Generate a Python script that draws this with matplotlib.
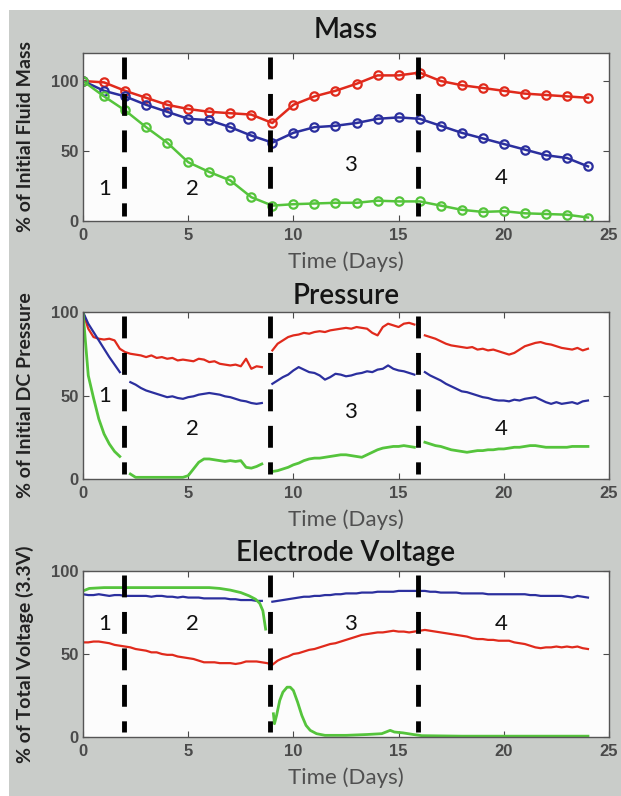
import numpy as np
import matplotlib.pyplot as plt
from matplotlib.patches import Rectangle

# colours
RED = '#e02a1c'
BLUE = '#2b2f9e'
GREEN = '#55c43c'
BG = '#c9ccc9'

# phase boundaries and labels
phase_x = [1.95, 8.9, 15.9]
phase_labels = ['1', '2', '3', '4']

# ---- Mass (daily samples) ----
mass_days = np.arange(0, 25)
mass_red = [100, 99, 93, 88, 83, 80, 78, 77, 76, 70, 83, 89, 93, 98, 104, 104,
            106, 100, 97, 95, 93, 91, 90, 89, 88]
mass_blue = [100, 93, 89, 83, 78, 73, 72, 67, 61, 56, 63, 67, 68, 70, 73, 74,
             73, 68, 63, 59, 55, 51, 47, 45, 39]
mass_green = [100, 89, 79, 67, 56, 42, 35, 29, 17, 11, 12, 12.5, 13, 13, 14.5, 14,
              14, 11, 8, 6.5, 7, 5.5, 5, 4.5, 2.5]

# ---- Pressure / Voltage (quarter-day samples) ----
t_q = np.arange(0, 24.01, 0.25)
nan = np.nan
pres_red = [100, 90, 85, 84, 83.5, 84, 83, 78, 76, 75, 74.5, 74, 73, 74, 72.5, 73,
            72, 72.5, 71, 71.5, 71, 70.5, 72, 71.5, 70, 70.5, 69, 68.5, 68, 68.5, 67.5, 72,
            66, 67.5, 67, nan, 77, 81, 83, 85, 86, 86.5, 87.5, 87, 88, 88.5, 88, 89,
            89.5, 90, 90.5, 90, 91, 90.5, 90, 87.5, 86, 91, 93, 92, 91, 93, 93.5, 92.5,
            nan, 86, 85, 84, 82.5, 81, 80, 79.5, 79, 78.5, 79, 77.5, 78, 77, 77.5, 76.5,
            75.5, 74.5, 75.5, 77.5, 79.5, 80.5, 81.5, 82, 81, 80.5, 79.5, 78.5, 78, 77.5, 78.5, 77,
            78]
pres_blue = [100, 93, 88, 83, 78, 73, 68.5, 64, nan, 58, 56.5, 54.5, 53, 52, 51, 50,
             49, 49.5, 48.5, 48, 49, 49.5, 50.5, 51, 51.5, 51, 50.5, 49.5, 49, 48, 47, 46.5,
             45.5, 45, 45.5, nan, 57, 59, 61, 62.5, 65, 67, 65.5, 64, 63.5, 62, 59.5, 61,
             63, 62.5, 61.5, 62, 63, 63.5, 64.5, 64, 65.5, 66, 68, 66, 65, 64.5, 63.5, 62.5,
             nan, 64, 62, 60.5, 59, 57, 55.5, 54, 52.5, 52, 51, 50, 49, 48.5, 47.5, 47,
             47, 46.5, 47.5, 47, 48, 48.5, 49, 47.5, 46, 45, 46, 45, 45.5, 46, 45, 46.5,
             47]
pres_green = [100, 62, 48.5, 36, 27, 21, 16.5, 13.5, nan, 3, 1, 1, 1, 1, 1, 1,
              1, 1, 1, 1, 2, 6, 10, 12, 12, 11.5, 11, 10.5, 11, 10.5, 11, 7,
              6.5, 7.5, 9, nan, 4.5, 5, 6, 7, 8.5, 9.5, 11, 12, 12.5, 12.5, 13, 13.5,
              14, 14.5, 14.5, 14, 13.5, 13, 14.5, 16, 17.5, 18.5, 19, 19.5, 19.5, 20, 19.5, 19,
              nan, 22, 21, 20, 19.5, 18.5, 17.5, 17, 16.5, 16, 16.5, 17, 17, 17.5, 17.5, 18,
              18, 18.5, 19, 19, 19.5, 20, 20, 19.5, 19, 19, 19, 19, 19, 19.5, 19.5, 19.5,
              19.5]

volt_red = [57, 57, 57.5, 57.5, 57, 56.5, 55.5, 55, 54.5, 54, 53, 52.5, 52, 51, 51, 50,
            49.5, 49.5, 48.5, 48, 47.5, 47, 46, 45, 45, 45, 44.5, 44.5, 44.5, 44, 44.5, 45.5,
            45.5, 45.5, 45, 44.5, 43.5, 46, 47.5, 48.5, 50, 50.5, 51.5, 52.5, 53, 54, 55, 56,
            56.5, 57.5, 58.5, 59.5, 60.5, 61.5, 62, 62.5, 63, 63, 63.5, 64, 63.5, 63.5, 63, 63.5,
            64, 64.5, 64, 63.5, 63, 62.5, 62, 61.5, 61, 60.5, 59.5, 59, 59, 58.5, 58.5, 58,
            58, 58, 57, 56.5, 56, 55, 54, 53.5, 54, 54, 54.5, 54, 54.5, 54, 54.5, 53.5,
            53]
volt_blue = [86, 85.5, 85.5, 86, 85.5, 85, 85.5, 85.5, 85, 85, 85, 85, 85, 84.5, 85, 85,
             84.5, 84.5, 84, 84.5, 84, 84, 84, 83.5, 83.5, 83.5, 83.5, 83.5, 83, 83, 82.5, 82.5,
             82.5, 82, 82, nan, 81.5, 82, 82.5, 83, 83.5, 84, 84.5, 84.5, 85, 85, 85.5, 85.5,
             86, 86, 86.5, 86.5, 86.5, 87, 87, 87, 87.5, 87.5, 87.5, 87.5, 88, 88, 88, 88,
             88, 88, 87.5, 87.5, 87, 87, 87, 87, 86.5, 86.5, 86.5, 86.5, 86.5, 86, 86, 86,
             86, 86, 86, 86, 86, 85.5, 85.5, 85, 85, 85, 85, 85, 84.5, 84, 85, 84.5,
             84]
volt_green_t = [0, 0.3, 1, 3, 6, 6.5, 7, 7.5, 7.9, 8.2, 8.4, 8.55, 8.62, 8.68, 8.9,
                9.05, 9.1, 9.2, 9.35, 9.5, 9.7, 9.85, 10.0, 10.2, 10.4, 10.6, 10.8, 11.1,
                11.5, 12.5, 13.5, 14.2, 14.6, 14.8, 15.2, 15.7, 16.1, 18, 24]
volt_green = [88, 89.5, 90, 90, 90, 89.5, 88.5, 87, 85, 83, 80.5, 76, 70, 65, nan,
              14, 8, 13, 22, 27, 30, 30, 28, 21, 13, 7, 4, 2,
              1, 1, 1.5, 2, 4, 3, 2.5, 1.5, 0.8, 0.5, 0.5]

label_y = {'mass': [23, 23, 40, 31], 'pres': [50, 30, 40, 30], 'volt': [68, 68, 68, 68]}
label_x = [1.05, 5.2, 12.7, 19.9]

fig = plt.figure(figsize=(6.21, 7.96), dpi=100)
fig.patch.set_facecolor('white')
fig.patches.append(Rectangle((9 / 621, 0), 1, 1 - 10 / 796, transform=fig.transFigure,
                             facecolor=BG, edgecolor='none', zorder=-10))

title_font = dict(family='Lato', fontsize=20, fontweight='semibold', color='#151515')
ylab_font = dict(family='Lato', fontsize=14, fontweight='bold', color='#222222')
xlab_font = dict(family='Lato', fontsize=16, color='#505050')

def style_axes(ax, ymax, title, ylabel, key, height_px, title_px):
    ax.set_facecolor('#fcfcfc')
    ax.set_xlim(0, 25)
    ax.set_ylim(0, ymax)
    ax.set_xticks([0, 5, 10, 15, 20, 25])
    ax.set_yticks([0, 50, 100])
    ax.tick_params(direction='in', length=4, width=0.8, top=True, right=True,
                   labelsize=12, labelcolor='#4a4a4a', colors='#4a4a4a')
    ax.tick_params(axis='x', pad=5)
    ax.tick_params(axis='y', pad=3)
    for lbl in ax.get_xticklabels() + ax.get_yticklabels():
        lbl.set_family('Liberation Sans')
        lbl.set_fontweight('bold')
    for s in ax.spines.values():
        s.set_color('#555555')
        s.set_linewidth(1.0)
    ax.text(0.5, 1 + title_px / height_px, title, transform=ax.transAxes,
            ha='center', va='center', **title_font)
    ax.set_ylabel(ylabel, **ylab_font)
    ax.set_xlabel('Time (Days)', **xlab_font)
    ax.yaxis.set_label_coords(-0.093, 0.5)
    ax.xaxis.set_label_coords(0.5, -41 / height_px)
    ax.xaxis.label.set_va('center')
    for x in phase_x:
        ax.plot([x, x], [ymax * 0.975, ymax * 0.03], color='black', lw=3.5,
                dashes=(4.5, 3), zorder=5)
    for lx, ly, txt in zip(label_x, label_y[key], phase_labels):
        ax.text(lx, ly, txt, family='Lato', fontsize=16, color='#111111',
                ha='center', va='center', zorder=6)

ax1 = fig.add_axes([83 / 621, 1 - 221 / 796, 526 / 621, 168 / 796])
ax2 = fig.add_axes([83 / 621, 1 - 479 / 796, 526 / 621, 167 / 796])
ax3 = fig.add_axes([83 / 621, 1 - 737 / 796, 526 / 621, 166 / 796])

mk = dict(marker='o', markersize=6, markerfacecolor='none', markeredgewidth=1.6, lw=1.8)
ax1.plot(mass_days, mass_red, color=RED, **mk)
ax1.plot(mass_days, mass_blue, color=BLUE, **mk)
ax1.plot(mass_days, mass_green, color=GREEN, **mk)
style_axes(ax1, 120, 'Mass', '% of Initial Fluid Mass', 'mass', 168, 23)

ax2.plot(t_q, pres_red, color=RED, lw=1.6)
ax2.plot(t_q, pres_blue, color=BLUE, lw=1.6)
ax2.plot(t_q, pres_green, color=GREEN, lw=2.0)
style_axes(ax2, 100, 'Pressure', '% of Initial DC Pressure', 'pres', 167, 16)

ax3.plot(t_q, volt_red, color=RED, lw=1.6)
ax3.plot(t_q, volt_blue, color=BLUE, lw=1.6)
ax3.plot(volt_green_t, volt_green, color=GREEN, lw=2.0)
style_axes(ax3, 100, 'Electrode Voltage', '% of Total Voltage (3.3V)', 'volt', 166, 18)

fig.savefig('out.png', dpi=100, facecolor=fig.get_facecolor())
